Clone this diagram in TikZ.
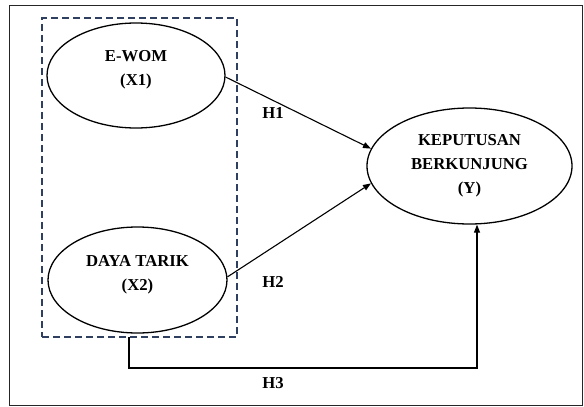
\documentclass[tikz,border=0pt]{standalone}
\usepackage{fontspec}
\setmainfont{Liberation Serif}
\usetikzlibrary{shapes.geometric,arrows.meta}
\definecolor{boxblue}{HTML}{2E3F5F}
\tikzset{
  var/.style={draw, line width=1.3pt, ellipse, inner sep=0pt},
  lbl/.style={font=\bfseries\fontsize{16.7}{24}\selectfont, align=center, inner sep=0pt},
  arr/.style={draw, line width=1.1pt, -{Triangle[length=8pt,width=6pt]}},
  grp/.style={draw=boxblue, line width=1.3pt, dash pattern=on 7pt off 4pt}
}
\begin{document}
\begin{tikzpicture}[x=1pt,y=-1pt]
\useasboundingbox (0,0) rectangle (584,407);
\draw[line width=1pt, black!85] (9.5,5.5) rectangle (582.5,405);
% group box
\node[grp, minimum width=195pt, minimum height=319pt, inner sep=0pt] (grp) at (139.5,177.5) {};
% ellipses
\node[var, minimum width=178pt, minimum height=105pt] (x1) at (136,75.5) {};
\node[lbl] (x1t) at (136,70) {E-WOM\\(X1)};
\node[var, minimum width=179pt, minimum height=106pt] (x2) at (137.5,280) {};
\node[lbl] (x2t) at (137.5,275) {DAYA TARIK\\(X2)};
\node[var, minimum width=205pt, minimum height=116pt] (y) at (469.5,166) {};
\node[lbl] (yt) at (469.5,166) {KEPUTUSAN\\BERKUNJUNG\\(Y)};
% arrows
\draw[arr] (x1.-1) -- (y.170);
\draw[arr] (x2.2) -- (y.190);
\coordinate (h3s) at (129,337);
\coordinate (h3c) at (477,368);
\draw[arr] (h3s) |- (h3c) -- (y.south -| h3c);
% labels
\node[lbl] (h1) at (273,113) {H1};
\node[lbl] (h2) at (273,282) {H2};
\node[lbl] (h3) at (273,383) {H3};
\end{tikzpicture}
\end{document}
